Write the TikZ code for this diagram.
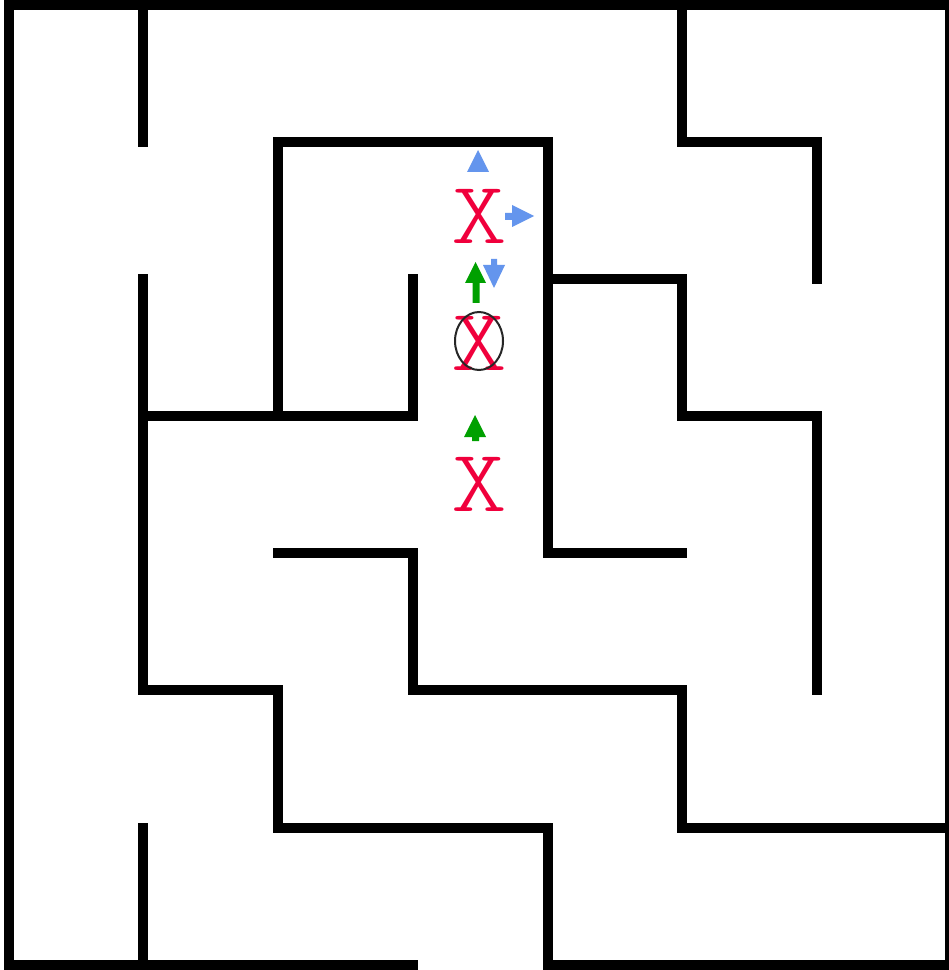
\documentclass[tikz,border=0pt]{standalone}
\usepackage{tikz}
\usetikzlibrary{positioning}
\definecolor{ink}{HTML}{000000}
\definecolor{markred}{HTML}{F0003C}
\definecolor{stepblue}{HTML}{6495ED}
\definecolor{stepgreen}{HTML}{00A000}
\tikzset{wall/.style={draw=ink,line width=0.2375cm,line cap=rect,line join=miter},deadmark/.style={text=markred,inner sep=0pt,xscale=1.2,font=\ttfamily\fontseries{l}\fontsize{63}{63}\selectfont},bluestep/.style={fill=stepblue,draw=none},greenstep/.style={fill=stepgreen,draw=none},visitring/.style={draw=ink!85,line width=0.05cm}}

\begin{document}
\begin{tikzpicture}[x=0.025cm,y=-0.025cm]
\useasboundingbox (0,0) rectangle (948,970);
\fill[white] (0,0) rectangle (948,970);
\draw[wall] (413,965) -- (9,965) -- (9,5) -- (950,5) -- (950,965) -- (548,965);
\draw[wall] (143,5) -- (143,142);
\draw[wall] (682,5) -- (682,142) -- (817,142) -- (817,279);
\draw[wall] (278,416) -- (278,142) -- (548,142) -- (548,553) -- (682,553);
\draw[wall] (548,279) -- (682,279) -- (682,416) -- (817,416) -- (817,690);
\draw[wall] (413,279) -- (413,416) -- (143,416);
\draw[wall] (143,279) -- (143,690) -- (278,690) -- (278,828) -- (548,828) -- (548,965);
\draw[wall] (278,553) -- (413,553) -- (413,690) -- (682,690) -- (682,828) -- (950,828);
\draw[wall] (143,828) -- (143,965);
\node[deadmark] (xtop) at (479,216) {X};
\node[deadmark] (xmid) at (479,343) {X};
\node[deadmark] (xlow) at (479,484) {X};
\draw[visitring] (479,341) ellipse [x radius=24,y radius=29];
\fill[bluestep] (478,150) -- (489,172) -- (467,172) -- cycle;
\fill[bluestep] (505,213) -- (512,213) -- (512,205) -- (534,216) -- (512,227) -- (512,220) -- (505,220) -- cycle;
\fill[bluestep] (491,259) -- (497,259) -- (497,265) -- (505,265) -- (494,288) -- (483,265) -- (491,265) -- cycle;
\fill[greenstep] (472.5,303) -- (479.5,303) -- (479.5,283) -- (486,283) -- (475.5,262) -- (465,283) -- (472.5,283) -- cycle;
\fill[greenstep] (475,415) -- (486,437) -- (479,437) -- (479,441) -- (472,441) -- (472,437) -- (464,437) -- cycle;
\end{tikzpicture}
\end{document}
